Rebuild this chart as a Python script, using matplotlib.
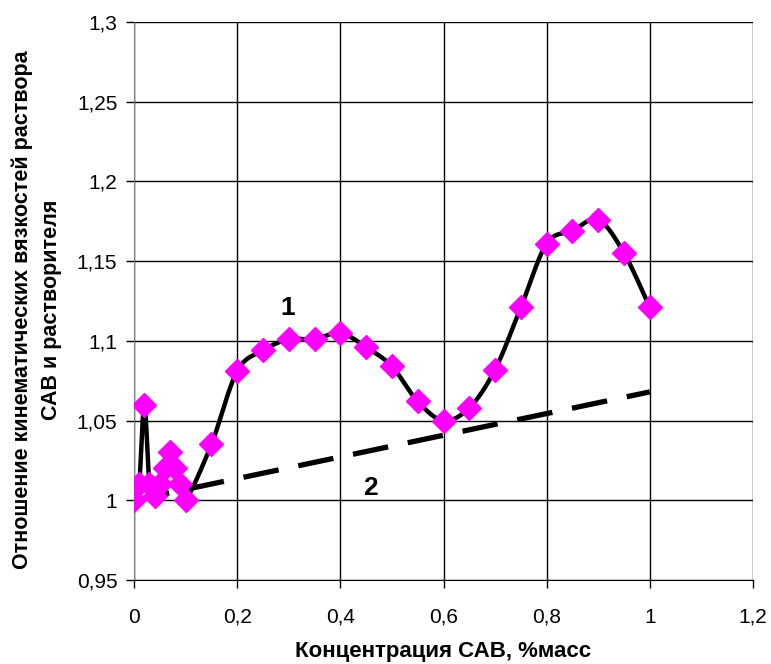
import numpy as np
import matplotlib.pyplot as plt
from matplotlib.ticker import FuncFormatter

plt.rcParams['font.family'] = ['Liberation Sans', 'DejaVu Sans']

# Curve 1: measured viscosity ratio
conc = [0, 0.01, 0.02, 0.03, 0.04, 0.05, 0.06, 0.07, 0.08, 0.09, 0.1,
        0.15, 0.2, 0.25, 0.3, 0.35, 0.4, 0.45, 0.5, 0.55, 0.6,
        0.65, 0.7, 0.75, 0.8, 0.85, 0.9, 0.95, 1.0]
ratio = [1.0, 1.01, 1.06, 1.01, 1.003, 1.01, 1.02, 1.03, 1.02, 1.01, 1.0,
         1.035, 1.081, 1.094, 1.101, 1.101, 1.105, 1.096, 1.084, 1.062, 1.05,
         1.058, 1.082, 1.121, 1.161, 1.169, 1.176, 1.155, 1.121]

# Curve 2: straight reference line
line2_x = [0, 1.0]
line2_y = [1.0, 1.068]

xticks = [0, 0.2, 0.4, 0.6, 0.8, 1.0, 1.2]
yticks = [0.95, 1.0, 1.05, 1.1, 1.15, 1.2, 1.25, 1.3]


def smooth(x, y, xr, yr, n=20):
    # Catmull-Rom through the points, computed in scaled (screen-like) units
    px = np.asarray(x) / xr
    py = np.asarray(y) / yr
    P = np.column_stack([px, py])
    P = np.vstack([P[0], P, P[-1]])
    out = []
    for i in range(1, len(P) - 2):
        p0, p1, p2, p3 = P[i - 1], P[i], P[i + 1], P[i + 2]
        t = np.linspace(0, 1, n)[:, None]
        c = 0.5 * ((2 * p1) + (-p0 + p2) * t + (2 * p0 - 5 * p1 + 4 * p2 - p3) * t ** 2
                   + (-p0 + 3 * p1 - 3 * p2 + p3) * t ** 3)
        out.append(c)
    out = np.vstack(out)
    return out[:, 0] * xr, out[:, 1] * yr


fig = plt.figure(figsize=(7.71, 6.64), dpi=100)
ax = fig.add_axes([134 / 771, 84 / 664, 619 / 771, 558 / 664])

sx, sy = smooth(conc, ratio, 1.2 / 619, 0.35 / 558)
ax.plot(sx, sy, color='black', lw=3.2, zorder=3)
ax.plot(conc, ratio, linestyle='none', marker='D', ms=12.5, color='#ff00ff',
        markeredgecolor='#ff00ff', zorder=4)
ax.plot(line2_x, line2_y, color='black', lw=3.8, dashes=(6.8, 3.8), zorder=3)

ax.text(0.297, 1.1205, '1', fontsize=19, fontweight='bold', ha='center', va='center')
ax.text(0.458, 1.008, '2', fontsize=19, fontweight='bold', ha='center', va='center')

ax.set_xlim(0, 1.2)
ax.set_ylim(0.95, 1.3)
ax.set_xticks(xticks)
ax.set_yticks(yticks)
comma = FuncFormatter(lambda v, p: ('%g' % round(v, 3)).replace('.', ','))
ax.xaxis.set_major_formatter(comma)
ax.yaxis.set_major_formatter(comma)
ax.tick_params(direction='out', length=6, labelsize=15, width=1, color='black')
ax.tick_params(axis='x', pad=14)
ax.tick_params(axis='y', pad=6)
ax.grid(True, color='black', lw=1)
ax.set_axisbelow(True)
for s in ['top', 'right']:
    ax.spines[s].set_visible(False)
ax.spines['left'].set_color('#808080')
ax.spines['bottom'].set_color('black')

ax.set_xlabel('Концентрация САВ, %масс', fontsize=16, fontweight='bold', labelpad=10)
ax.set_ylabel('Отношение кинематических вязкостей раствора\nСАВ и растворителя',
              fontsize=15.5, fontweight='bold', linespacing=1.5)
ax.yaxis.set_label_coords(-72 / 619, 0.485)

plt.savefig('out.png', dpi=100)
